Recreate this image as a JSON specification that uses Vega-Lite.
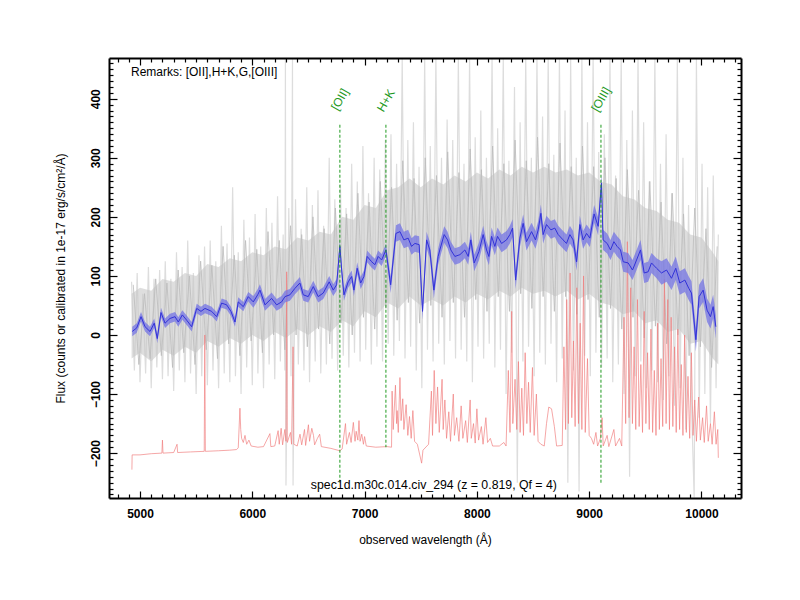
{
"$schema": "https://vega.github.io/schema/vega-lite/v6.json",
"width": 632, "height": 440,
"autosize": {"type": "none"},
"padding": {"left": 109, "top": 58, "right": 59, "bottom": 102},
"background": "white",
"config": {"view": {"stroke": null}, "font": "Liberation Sans"},
"datasets": {
"core": [
{"w":4925,"glo":-40,"ghi":70},{"w":5000,"glo":-30,"ghi":80},{"w":5100,"glo":-45,"ghi":75},{"w":5200,"glo":-25,"ghi":95},{"w":5300,"glo":-35,"ghi":90},{"w":5400,"glo":-20,"ghi":105},{"w":5500,"glo":-30,"ghi":100},{"w":5600,"glo":-10,"ghi":120},{"w":5700,"glo":-20,"ghi":115},{"w":5800,"glo":-5,"ghi":130},{"w":5900,"glo":-15,"ghi":125},{"w":6000,"glo":0,"ghi":140},{"w":6100,"glo":-10,"ghi":135},{"w":6200,"glo":5,"ghi":150},{"w":6300,"glo":-5,"ghi":145},{"w":6400,"glo":10,"ghi":165},{"w":6500,"glo":0,"ghi":160},{"w":6600,"glo":15,"ghi":175},{"w":6700,"glo":5,"ghi":170},{"w":6800,"glo":25,"ghi":200},{"w":6900,"glo":15,"ghi":195},{"w":7000,"glo":40,"ghi":220},{"w":7100,"glo":30,"ghi":215},{"w":7200,"glo":55,"ghi":245},{"w":7300,"glo":45,"ghi":250},{"w":7400,"glo":65,"ghi":265},{"w":7500,"glo":50,"ghi":250},{"w":7600,"glo":60,"ghi":265},{"w":7700,"glo":50,"ghi":255},{"w":7800,"glo":65,"ghi":270},{"w":7900,"glo":55,"ghi":260},{"w":8000,"glo":70,"ghi":275},{"w":8100,"glo":60,"ghi":265},{"w":8200,"glo":75,"ghi":280},{"w":8300,"glo":65,"ghi":270},{"w":8400,"glo":80,"ghi":285},{"w":8500,"glo":70,"ghi":275},{"w":8600,"glo":75,"ghi":285},{"w":8700,"glo":65,"ghi":275},{"w":8800,"glo":75,"ghi":280},{"w":8900,"glo":60,"ghi":270},{"w":9000,"glo":70,"ghi":275},{"w":9100,"glo":55,"ghi":260},{"w":9200,"glo":50,"ghi":255},{"w":9300,"glo":35,"ghi":235},{"w":9400,"glo":40,"ghi":230},{"w":9500,"glo":20,"ghi":215},{"w":9600,"glo":25,"ghi":210},{"w":9700,"glo":5,"ghi":195},{"w":9800,"glo":10,"ghi":190},{"w":9900,"glo":-15,"ghi":170},{"w":10000,"glo":-10,"ghi":165},{"w":10100,"glo":-40,"ghi":140},{"w":10150,"glo":-50,"ghi":125}
],
"inner": [
{"w":4940,"n":85},{"w":4990,"n":-50},{"w":5040,"n":70},{"w":5090,"n":-40},{"w":5140,"n":95},{"w":5190,"n":-35},{"w":5240,"n":88},{"w":5290,"n":-55},{"w":5340,"n":110},{"w":5390,"n":-30},{"w":5440,"n":100},{"w":5490,"n":-50},{"w":5540,"n":125},{"w":5590,"n":-25},{"w":5640,"n":118},{"w":5690,"n":-40},{"w":5740,"n":150},{"w":5790,"n":-15},{"w":5840,"n":135},{"w":5890,"n":-35},{"w":5940,"n":160},{"w":5990,"n":-10},{"w":6040,"n":145},{"w":6090,"n":-30},{"w":6140,"n":175},{"w":6190,"n":0},{"w":6240,"n":160},{"w":6290,"n":-25},{"w":6340,"n":185},{"w":6390,"n":0},{"w":6440,"n":170},{"w":6490,"n":-20},{"w":6540,"n":200},{"w":6590,"n":10},{"w":6640,"n":180},{"w":6690,"n":-15},{"w":6740,"n":215},{"w":6790,"n":20},{"w":6840,"n":205},{"w":6890,"n":0},{"w":6940,"n":240},{"w":6990,"n":30},{"w":7040,"n":225},{"w":7090,"n":10},{"w":7140,"n":260},{"w":7190,"n":45},{"w":7240,"n":250},{"w":7290,"n":25},{"w":7340,"n":295},{"w":7390,"n":55},{"w":7440,"n":265},{"w":7490,"n":20},{"w":7540,"n":300},{"w":7590,"n":50},{"w":7640,"n":270},{"w":7690,"n":30},{"w":7740,"n":310},{"w":7790,"n":55},{"w":7840,"n":275},{"w":7890,"n":30},{"w":7940,"n":315},{"w":7990,"n":60},{"w":8040,"n":280},{"w":8090,"n":40},{"w":8140,"n":320},{"w":8190,"n":65},{"w":8240,"n":290},{"w":8290,"n":40},{"w":8340,"n":330},{"w":8390,"n":70},{"w":8440,"n":295},{"w":8490,"n":45},{"w":8540,"n":335},{"w":8590,"n":65},{"w":8640,"n":290},{"w":8690,"n":40},{"w":8740,"n":325},{"w":8790,"n":65},{"w":8840,"n":285},{"w":8890,"n":35},{"w":8940,"n":320},{"w":8990,"n":60},{"w":9040,"n":285},{"w":9090,"n":30},{"w":9140,"n":300},{"w":9190,"n":45},{"w":9240,"n":265},{"w":9290,"n":10},{"w":9340,"n":280},{"w":9390,"n":30},{"w":9440,"n":245},{"w":9490,"n":-5},{"w":9540,"n":260},{"w":9590,"n":15},{"w":9640,"n":225},{"w":9690,"n":-15},{"w":9740,"n":240},{"w":9790,"n":0},{"w":9840,"n":205},{"w":9890,"n":-35},{"w":9940,"n":215},{"w":9990,"n":-20},{"w":10040,"n":180},{"w":10090,"n":-55},{"w":10140,"n":150}
],
"gray": [
{"w":4925,"r":90},{"w":4950,"r":-60},{"w":4975,"r":105},{"w":5000,"r":-80},{"w":5025,"r":70},{"w":5050,"r":-65},{"w":5075,"r":115},{"w":5100,"r":-90},{"w":5125,"r":95},{"w":5150,"r":-55},{"w":5175,"r":110},{"w":5200,"r":-75},
{"w":5225,"r":125},{"w":5250,"r":-70},{"w":5275,"r":95},{"w":5300,"r":-95},{"w":5325,"r":140},{"w":5350,"r":-60},{"w":5375,"r":115},{"w":5400,"r":-80},{"w":5425,"r":160},{"w":5450,"r":-65},{"w":5475,"r":105},{"w":5500,"r":-100},{"w":5525,"r":135},{"w":5550,"r":-70},{"w":5575,"r":150},{"w":5600,"r":-85},
{"w":5625,"r":160},{"w":5650,"r":-60},{"w":5675,"r":125},{"w":5700,"r":-90},{"w":5725,"r":185},{"w":5750,"r":-65},{"w":5775,"r":155},{"w":5800,"r":-80},{"w":5825,"r":250},{"w":5850,"r":-70},{"w":5875,"r":140},{"w":5900,"r":-100},{"w":5925,"r":195},{"w":5950,"r":-55},{"w":5975,"r":165},{"w":6000,"r":-85},{"w":6025,"r":205},{"w":6050,"r":-65},{"w":6075,"r":150},{"w":6100,"r":-90},
{"w":6125,"r":215},{"w":6150,"r":-50},{"w":6175,"r":190},{"w":6200,"r":-75},{"w":6225,"r":235},{"w":6250,"r":-45},{"w":6275,"r":170},{"w":6290,"r":-60},{"w":6295,"r":468},{"w":6300,"r":-255},{"w":6325,"r":215},{"w":6345,"r":-70},{"w":6358,"r":468},{"w":6363,"r":-255},{"w":6385,"r":230},{"w":6410,"r":-50},{"w":6435,"r":180},{"w":6460,"r":-60},{"w":6485,"r":250},{"w":6510,"r":-80},{"w":6535,"r":220},{"w":6560,"r":-45},{"w":6585,"r":245},{"w":6610,"r":-65},{"w":6635,"r":185},{"w":6660,"r":-50},{"w":6685,"r":300},{"w":6710,"r":-40},{"w":6735,"r":230},{"w":6760,"r":-60},{"w":6785,"r":255},
{"w":6810,"r":-35},{"w":6835,"r":215},{"w":6860,"r":-55},{"w":6885,"r":290},{"w":6910,"r":-30},{"w":6935,"r":260},{"w":6960,"r":-45},{"w":6985,"r":320},{"w":7010,"r":-25},{"w":7035,"r":240},{"w":7060,"r":-50},{"w":7085,"r":300},{"w":7110,"r":-20},{"w":7135,"r":280},{"w":7160,"r":-45},{"w":7185,"r":330},
{"w":7210,"r":-15},{"w":7235,"r":340},{"w":7260,"r":-35},{"w":7285,"r":290},{"w":7310,"r":-10},{"w":7335,"r":468},{"w":7360,"r":-40},{"w":7385,"r":330},{"w":7410,"r":-20},{"w":7435,"r":360},{"w":7460,"r":-60},{"w":7485,"r":285},{"w":7510,"r":-90},{"w":7535,"r":468},{"w":7560,"r":-25},{"w":7585,"r":320},{"w":7610,"r":-45},{"w":7635,"r":468},{"w":7660,"r":-15},{"w":7685,"r":300},{"w":7710,"r":-50},{"w":7735,"r":365},{"w":7760,"r":-10},{"w":7785,"r":330},{"w":7810,"r":-40},{"w":7835,"r":468},{"w":7860,"r":-25},{"w":7885,"r":290},{"w":7910,"r":-45},{"w":7935,"r":468},{"w":7960,"r":-80},{"w":7985,"r":335},
{"w":8010,"r":-20},{"w":8035,"r":380},{"w":8060,"r":-40},{"w":8085,"r":300},{"w":8110,"r":-15},{"w":8135,"r":468},{"w":8160,"r":-55},{"w":8185,"r":350},{"w":8210,"r":-25},{"w":8235,"r":468},{"w":8260,"r":-100},{"w":8285,"r":295},{"w":8310,"r":-30},{"w":8335,"r":420},{"w":8360,"r":-250},{"w":8385,"r":360},{"w":8410,"r":-45},{"w":8435,"r":468},{"w":8460,"r":-20},{"w":8485,"r":300},{"w":8510,"r":-70},{"w":8535,"r":468},{"w":8560,"r":-30},{"w":8585,"r":370},{"w":8610,"r":-50},{"w":8635,"r":468},{"w":8660,"r":-15},{"w":8685,"r":305},{"w":8710,"r":-80},{"w":8735,"r":468},{"w":8760,"r":-40},{"w":8785,"r":380},{"w":8810,"r":-250},{"w":8835,"r":468},{"w":8860,"r":-60},{"w":8885,"r":300},{"w":8910,"r":-265},{"w":8935,"r":468},{"w":8960,"r":-35},{"w":8985,"r":360},{"w":9010,"r":-70},{"w":9035,"r":468},{"w":9060,"r":-30},{"w":9085,"r":310},
{"w":9110,"r":-55},{"w":9135,"r":340},{"w":9160,"r":-40},{"w":9185,"r":468},{"w":9210,"r":-80},{"w":9235,"r":270},{"w":9260,"r":-50},{"w":9285,"r":468},{"w":9310,"r":-100},{"w":9335,"r":330},{"w":9360,"r":-240},{"w":9385,"r":380},{"w":9410,"r":-70},{"w":9435,"r":468},{"w":9460,"r":-45},{"w":9485,"r":360},{"w":9510,"r":-90},{"w":9535,"r":260},{"w":9560,"r":-60},{"w":9585,"r":468},
{"w":9610,"r":-80},{"w":9635,"r":290},{"w":9660,"r":-110},{"w":9685,"r":340},{"w":9710,"r":-70},{"w":9735,"r":240},{"w":9760,"r":-120},{"w":9785,"r":468},{"w":9810,"r":-90},{"w":9835,"r":300},{"w":9860,"r":-160},{"w":9885,"r":220},{"w":9910,"r":-110},{"w":9935,"r":-275},{"w":9955,"r":468},{"w":9980,"r":-140},{"w":10005,"r":290},{"w":10030,"r":-100},{"w":10055,"r":250},{"w":10080,"r":-150},{"w":10105,"r":270},{"w":10130,"r":-90},{"w":10150,"r":170}
],
"sky": [
{"w":4928,"s":-228},{"w":4930,"s":-203},{"w":5000,"s":-203},{"w":5100,"s":-201},{"w":5195,"s":-200},{"w":5200,"s":-178},{"w":5205,"s":-200},{"w":5300,"s":-199},{"w":5330,"s":-185},{"w":5335,"s":-199},{"w":5450,"s":-198},{"w":5572,"s":-197},{"w":5577,"s":0},{"w":5582,"s":-197},{"w":5700,"s":-196},{"w":5800,"s":-195},{"w":5860,"s":-194},{"w":5875,"s":-191},{"w":5890,"s":-124},{"w":5897,"s":-160},{"w":5905,"s":-175},{"w":5920,"s":-182},{"w":5935,"s":-170},{"w":5950,"s":-185},{"w":5970,"s":-178},{"w":5990,"s":-188},{"w":6050,"s":-190},{"w":6100,"s":-189},{"w":6157,"s":-167},{"w":6165,"s":-189},{"w":6200,"s":-188},{"w":6230,"s":-162},{"w":6240,"s":-185},{"w":6257,"s":-158},{"w":6270,"s":-186},{"w":6290,"s":-160},{"w":6300,"s":-180},{"w":6306,"s":107},{"w":6312,"s":-182},{"w":6340,"s":-165},{"w":6350,"s":-185},{"w":6363,"s":-20},{"w":6370,"s":-185},{"w":6400,"s":-188},{"w":6425,"s":-168},{"w":6440,"s":-186},{"w":6465,"s":-160},{"w":6475,"s":-187},{"w":6500,"s":-152},{"w":6510,"s":-180},{"w":6530,"s":-158},{"w":6545,"s":-170},{"w":6555,"s":-186},{"w":6580,"s":-175},{"w":6600,"s":-168},{"w":6615,"s":-189},{"w":6700,"s":-192},{"w":6780,"s":-196},{"w":6800,"s":-193},{"w":6830,"s":-150},{"w":6840,"s":-185},{"w":6865,"s":-165},{"w":6880,"s":-182},{"w":6900,"s":-148},{"w":6915,"s":-180},{"w":6925,"s":-163},{"w":6940,"s":-178},{"w":6950,"s":-145},{"w":6960,"s":-180},{"w":6975,"s":-168},{"w":6990,"s":-185},{"w":7000,"s":-172},{"w":7015,"s":-188},{"w":7100,"s":-190},{"w":7200,"s":-189},{"w":7240,"s":-190},{"w":7245,"s":-95},{"w":7255,"s":-160},{"w":7275,"s":-85},{"w":7285,"s":-150},{"w":7290,"s":-128},{"w":7300,"s":-165},{"w":7315,"s":-72},{"w":7325,"s":-145},{"w":7340,"s":-108},{"w":7350,"s":-160},{"w":7370,"s":-118},{"w":7385,"s":-170},{"w":7400,"s":-138},{"w":7415,"s":-175},{"w":7430,"s":-128},{"w":7445,"s":-180},{"w":7470,"s":-185},{"w":7508,"s":-217},{"w":7520,"s":-195},{"w":7570,"s":-185},{"w":7595,"s":-95},{"w":7605,"s":-170},{"w":7620,"s":-60},{"w":7635,"s":-150},{"w":7650,"s":-88},{"w":7665,"s":-165},{"w":7690,"s":-75},{"w":7700,"s":-160},{"w":7715,"s":-110},{"w":7730,"s":-175},{"w":7750,"s":-130},{"w":7765,"s":-180},{"w":7790,"s":-100},{"w":7800,"s":-170},{"w":7820,"s":-140},{"w":7840,"s":-180},{"w":7860,"s":-120},{"w":7875,"s":-175},{"w":7900,"s":-145},{"w":7915,"s":-182},{"w":7940,"s":-110},{"w":7950,"s":-175},{"w":7970,"s":-150},{"w":7985,"s":-183},{"w":8000,"s":-125},{"w":8015,"s":-178},{"w":8040,"s":-155},{"w":8055,"s":-185},{"w":8080,"s":-140},{"w":8095,"s":-182},{"w":8120,"s":-175},{"w":8140,"s":-188},{"w":8200,"s":-188},{"w":8240,"s":-182},{"w":8260,"s":-188},{"w":8280,"s":-60},{"w":8295,"s":-165},{"w":8310,"s":40},{"w":8320,"s":-150},{"w":8340,"s":-75},{"w":8355,"s":-160},{"w":8370,"s":-45},{"w":8385,"s":-165},{"w":8400,"s":-90},{"w":8415,"s":-170},{"w":8430,"s":-30},{"w":8445,"s":-150},{"w":8460,"s":-80},{"w":8475,"s":-165},{"w":8495,"s":-55},{"w":8510,"s":-170},{"w":8530,"s":-100},{"w":8545,"s":-180},{"w":8570,"s":-185},{"w":8600,"s":-188},{"w":8620,"s":-150},{"w":8640,"s":-122},{"w":8665,"s":-125},{"w":8690,"s":-155},{"w":8710,"s":-188},{"w":8760,"s":-187},{"w":8775,"s":-20},{"w":8790,"s":-160},{"w":8800,"s":60},{"w":8815,"s":-150},{"w":8830,"s":105},{"w":8845,"s":-140},{"w":8860,"s":-10},{"w":8875,"s":-155},{"w":8890,"s":80},{"w":8905,"s":-150},{"w":8920,"s":20},{"w":8935,"s":-160},{"w":8950,"s":100},{"w":8965,"s":-165},{"w":8985,"s":-40},{"w":9000,"s":-170},{"w":9020,"s":-175},{"w":9040,"s":-185},{"w":9060,"s":-165},{"w":9075,"s":-188},{"w":9100,"s":-175},{"w":9115,"s":-140},{"w":9125,"s":-188},{"w":9160,"s":-170},{"w":9175,"s":-189},{"w":9220,"s":-160},{"w":9235,"s":-188},{"w":9270,"s":-175},{"w":9290,"s":-188},{"w":9310,"s":30},{"w":9325,"s":-150},{"w":9340,"s":158},{"w":9355,"s":-140},{"w":9370,"s":80},{"w":9385,"s":-150},{"w":9400,"s":-20},{"w":9415,"s":-160},{"w":9430,"s":60},{"w":9445,"s":-155},{"w":9460,"s":-50},{"w":9475,"s":-165},{"w":9490,"s":40},{"w":9505,"s":-150},{"w":9520,"s":-30},{"w":9535,"s":-160},{"w":9550,"s":10},{"w":9565,"s":-165},{"w":9580,"s":-60},{"w":9595,"s":-170},{"w":9610,"s":20},{"w":9625,"s":-160},{"w":9640,"s":-40},{"w":9655,"s":-155},{"w":9670,"s":94},{"w":9685,"s":-150},{"w":9700,"s":60},{"w":9715,"s":-160},{"w":9730,"s":30},{"w":9745,"s":-155},{"w":9760,"s":-20},{"w":9775,"s":-165},{"w":9790,"s":10},{"w":9805,"s":-160},{"w":9820,"s":-50},{"w":9835,"s":-170},{"w":9850,"s":0},{"w":9865,"s":-165},{"w":9880,"s":-70},{"w":9895,"s":-175},{"w":9910,"s":-30},{"w":9925,"s":-170},{"w":9940,"s":-110},{"w":9955,"s":-180},{"w":9975,"s":-105},{"w":9990,"s":-178},{"w":10010,"s":-140},{"w":10025,"s":-182},{"w":10045,"s":-120},{"w":10060,"s":-180},{"w":10080,"s":-150},{"w":10095,"s":-185},{"w":10115,"s":-130},{"w":10130,"s":-185},{"w":10145,"s":-160},{"w":10150,"s":-208}
],
"smooth": [
{"w":4931,"f":6,"lo":-2,"hi":14},{"w":4971,"f":12,"lo":4,"hi":20},{"w":5009,"f":31,"lo":23,"hi":39},{"w":5045,"f":14,"lo":6,"hi":22},{"w":5089,"f":6,"lo":-2,"hi":14},{"w":5127,"f":20,"lo":12,"hi":28},{"w":5154,"f":-6,"lo":-14,"hi":2},{"w":5187,"f":38,"lo":30,"hi":46},{"w":5223,"f":20,"lo":12,"hi":28},{"w":5267,"f":28,"lo":20,"hi":36},{"w":5312,"f":31,"lo":23,"hi":39},{"w":5341,"f":22,"lo":14,"hi":30},{"w":5377,"f":34,"lo":26,"hi":42},{"w":5416,"f":25,"lo":17,"hi":33},{"w":5460,"f":14,"lo":6,"hi":22},{"w":5505,"f":45,"lo":37,"hi":53},{"w":5543,"f":40,"lo":32,"hi":48},{"w":5579,"f":45,"lo":37,"hi":53},{"w":5638,"f":40,"lo":32,"hi":48},{"w":5683,"f":31,"lo":23,"hi":39},{"w":5727,"f":54,"lo":46,"hi":62},{"w":5772,"f":51,"lo":43,"hi":59},{"w":5810,"f":40,"lo":32,"hi":48},{"w":5846,"f":22,"lo":14,"hi":30},{"w":5875,"f":56,"lo":48,"hi":64},{"w":5920,"f":48,"lo":40,"hi":56},{"w":5964,"f":65,"lo":57,"hi":73},
{"w":6009,"f":56,"lo":46,"hi":66},{"w":6048,"f":68,"lo":58,"hi":78},{"w":6068,"f":76,"lo":66,"hi":86},{"w":6113,"f":51,"lo":41,"hi":61},{"w":6172,"f":62,"lo":52,"hi":72},{"w":6217,"f":51,"lo":41,"hi":61},{"w":6261,"f":56,"lo":46,"hi":66},{"w":6291,"f":65,"lo":55,"hi":75},{"w":6335,"f":68,"lo":58,"hi":78},{"w":6380,"f":79,"lo":69,"hi":89},{"w":6424,"f":88,"lo":78,"hi":98},{"w":6454,"f":68,"lo":58,"hi":78},{"w":6498,"f":65,"lo":55,"hi":75},{"w":6543,"f":82,"lo":72,"hi":92},{"w":6587,"f":65,"lo":55,"hi":75},{"w":6632,"f":71,"lo":61,"hi":81},{"w":6685,"f":90,"lo":80,"hi":100},{"w":6721,"f":76,"lo":66,"hi":86},{"w":6751,"f":85,"lo":75,"hi":95},{"w":6780,"f":150,"lo":140,"hi":160},{"w":6796,"f":110,"lo":100,"hi":120},{"w":6816,"f":68,"lo":58,"hi":78},{"w":6854,"f":90,"lo":80,"hi":100},{"w":6885,"f":99,"lo":89,"hi":109},{"w":6905,"f":76,"lo":66,"hi":86},{"w":6934,"f":113,"lo":103,"hi":123},{"w":6965,"f":88,"lo":78,"hi":98},{"w":6994,"f":99,"lo":89,"hi":109},{"w":7023,"f":133,"lo":123,"hi":143},{"w":7063,"f":124,"lo":114,"hi":134},{"w":7092,"f":119,"lo":109,"hi":129},{"w":7121,"f":133,"lo":123,"hi":143},{"w":7152,"f":127,"lo":117,"hi":137},{"w":7190,"f":144,"lo":134,"hi":154},
{"w":7232,"f":85,"lo":71,"hi":99},{"w":7279,"f":172,"lo":158,"hi":186},{"w":7315,"f":175,"lo":161,"hi":189},{"w":7350,"f":161,"lo":147,"hi":175},{"w":7388,"f":164,"lo":150,"hi":178},{"w":7418,"f":150,"lo":136,"hi":164},{"w":7448,"f":155,"lo":141,"hi":169},{"w":7486,"f":153,"lo":139,"hi":167},{"w":7516,"f":40,"lo":26,"hi":54},{"w":7552,"f":161,"lo":147,"hi":175},{"w":7581,"f":144,"lo":130,"hi":158},{"w":7617,"f":76,"lo":62,"hi":90},{"w":7655,"f":133,"lo":119,"hi":147},{"w":7670,"f":144,"lo":130,"hi":158},{"w":7709,"f":170,"lo":156,"hi":184},{"w":7739,"f":161,"lo":147,"hi":175},{"w":7768,"f":144,"lo":130,"hi":158},{"w":7804,"f":133,"lo":119,"hi":147},{"w":7849,"f":136,"lo":122,"hi":150},{"w":7893,"f":144,"lo":130,"hi":158},{"w":7923,"f":133,"lo":119,"hi":147},{"w":7946,"f":161,"lo":147,"hi":175},{"w":7976,"f":122,"lo":108,"hi":136},
{"w":8018,"f":141,"lo":126,"hi":156},{"w":8056,"f":170,"lo":155,"hi":185},{"w":8086,"f":144,"lo":129,"hi":159},{"w":8107,"f":133,"lo":118,"hi":148},{"w":8131,"f":167,"lo":152,"hi":182},{"w":8160,"f":150,"lo":135,"hi":165},{"w":8184,"f":167,"lo":152,"hi":182},{"w":8220,"f":155,"lo":140,"hi":170},{"w":8264,"f":161,"lo":146,"hi":176},{"w":8294,"f":170,"lo":155,"hi":185},{"w":8318,"f":181,"lo":166,"hi":196},{"w":8345,"f":93,"lo":78,"hi":108},{"w":8383,"f":164,"lo":149,"hi":179},{"w":8412,"f":189,"lo":174,"hi":204},{"w":8442,"f":158,"lo":143,"hi":173},{"w":8487,"f":175,"lo":160,"hi":190},{"w":8522,"f":161,"lo":146,"hi":176},{"w":8546,"f":178,"lo":163,"hi":193},{"w":8570,"f":206,"lo":191,"hi":221},{"w":8590,"f":170,"lo":155,"hi":185},{"w":8620,"f":187,"lo":172,"hi":202},{"w":8659,"f":178,"lo":163,"hi":193},{"w":8694,"f":181,"lo":166,"hi":196},{"w":8724,"f":170,"lo":155,"hi":185},{"w":8768,"f":161,"lo":146,"hi":176},{"w":8798,"f":155,"lo":140,"hi":170},{"w":8828,"f":170,"lo":155,"hi":185},{"w":8857,"f":161,"lo":146,"hi":176},{"w":8888,"f":124,"lo":109,"hi":139},{"w":8917,"f":187,"lo":172,"hi":202},{"w":8946,"f":161,"lo":146,"hi":176},{"w":8977,"f":172,"lo":157,"hi":187},{"w":9006,"f":164,"lo":149,"hi":179},{"w":9044,"f":205,"lo":190,"hi":220},{"w":9080,"f":184,"lo":169,"hi":199},{"w":9110,"f":257,"lo":242,"hi":272},
{"w":9124,"f":161,"lo":144,"hi":178},{"w":9160,"f":155,"lo":138,"hi":172},{"w":9190,"f":144,"lo":127,"hi":161},{"w":9220,"f":158,"lo":141,"hi":175},{"w":9249,"f":150,"lo":133,"hi":167},{"w":9279,"f":144,"lo":127,"hi":161},{"w":9303,"f":124,"lo":107,"hi":141},{"w":9347,"f":122,"lo":105,"hi":139},{"w":9386,"f":110,"lo":93,"hi":127},{"w":9422,"f":127,"lo":110,"hi":144},{"w":9457,"f":144,"lo":127,"hi":161},{"w":9490,"f":105,"lo":88,"hi":122},{"w":9525,"f":107,"lo":90,"hi":124},{"w":9555,"f":122,"lo":105,"hi":139},{"w":9600,"f":113,"lo":96,"hi":130},
{"w":9644,"f":105,"lo":85,"hi":125},{"w":9689,"f":110,"lo":90,"hi":130},{"w":9733,"f":96,"lo":76,"hi":116},{"w":9771,"f":113,"lo":93,"hi":133},{"w":9807,"f":88,"lo":68,"hi":108},{"w":9852,"f":93,"lo":73,"hi":113},{"w":9887,"f":79,"lo":59,"hi":99},{"w":9911,"f":71,"lo":51,"hi":91},{"w":9950,"f":-8,"lo":-28,"hi":12},{"w":9979,"f":65,"lo":45,"hi":85},{"w":10015,"f":76,"lo":56,"hi":96},{"w":10050,"f":42,"lo":22,"hi":62},{"w":10080,"f":31,"lo":11,"hi":51},{"w":10104,"f":48,"lo":28,"hi":68},{"w":10128,"f":14,"lo":-6,"hi":34}
],
"lines": [
{"w":6780,"top":356,"bottom":-250,"label":"[OII]","ly":399},
{"w":7190,"top":356,"bottom":-190,"label":"H+K","ly":397},
{"w":9105,"top":356,"bottom":-252,"label":"[OIII]","ly":399}
]
},
"resolve": {"axis": {"x": "independent", "y": "independent"}},
"layer": [
{
"data": {"name": "gray"},
"mark": {"type": "line", "stroke": "#dddddd", "strokeWidth": 1.2, "clip": true},
"encoding": {
"x": {"field": "w", "type": "quantitative", "scale": {"domain": [4724, 10352], "nice": false, "zero": false},
"axis": {"orient": "bottom", "title": "observed wavelength (Å)", "values": [4800,4900,5000,5100,5200,5300,5400,5500,5600,5700,5800,5900,6000,6100,6200,6300,6400,6500,6600,6700,6800,6900,7000,7100,7200,7300,7400,7500,7600,7700,7800,7900,8000,8100,8200,8300,8400,8500,8600,8700,8800,8900,9000,9100,9200,9300,9400,9500,9600,9700,9800,9900,10000,10100,10200,10300],
"labelExpr": "datum.value % 1000 === 0 ? format(datum.value, 'd') : ''", "labelOverlap": false, "labelFlush": false,
"tickSize": {"condition": {"test": "datum.value % 1000 === 0", "value": -7}, "value": -4},
"tickColor": "black", "tickWidth": 1.2, "domain": true, "domainColor": "black", "domainWidth": 2, "grid": false, "zindex": 1,
"labelPadding": 17, "labelFont": "Liberation Sans", "labelFontWeight": "bold", "labelFontSize": 12, "labelColor": "black",
"titleFont": "Liberation Sans", "titleFontSize": 12, "titleFontWeight": "normal", "titleColor": "black", "titlePadding": 12}},
"y": {"field": "r", "type": "quantitative", "scale": {"domain": [-276, 469], "nice": false, "zero": false},
"axis": {"orient": "left", "title": "Flux (counts or calibrated in 1e-17 erg/s/cm²/Å)", "values": [-270,-260,-250,-240,-230,-220,-210,-200,-190,-180,-170,-160,-150,-140,-130,-120,-110,-100,-90,-80,-70,-60,-50,-40,-30,-20,-10,0,10,20,30,40,50,60,70,80,90,100,110,120,130,140,150,160,170,180,190,200,210,220,230,240,250,260,270,280,290,300,310,320,330,340,350,360,370,380,390,400,410,420,430,440,450,460],
"labelExpr": "datum.value % 100 === 0 ? format(datum.value, 'd') : ''", "labelOverlap": false, "labelFlush": false,
"labelAngle": -90, "labelAlign": "center", "labelBaseline": "bottom",
"tickSize": {"condition": {"test": "datum.value % 100 === 0", "value": -8}, "value": -4},
"tickColor": "black", "tickWidth": 1.2, "domain": true, "domainColor": "black", "domainWidth": 2, "grid": false, "zindex": 1,
"labelPadding": 15, "labelFont": "Liberation Sans", "labelFontWeight": "bold", "labelFontSize": 12, "labelColor": "black",
"titleFont": "Liberation Sans", "titleFontSize": 12, "titleFontWeight": "normal", "titleColor": "black", "titlePadding": 18}}
}
},
{
"data": {"name": "core"},
"mark": {"type": "area", "color": "#c8c8c8", "opacity": 0.6, "clip": true},
"encoding": {
"x": {"field": "w", "type": "quantitative", "scale": {"domain": [4724, 10352], "nice": false, "zero": false},
"axis": {"orient": "top", "title": null, "labels": false, "values": [4800,4900,5000,5100,5200,5300,5400,5500,5600,5700,5800,5900,6000,6100,6200,6300,6400,6500,6600,6700,6800,6900,7000,7100,7200,7300,7400,7500,7600,7700,7800,7900,8000,8100,8200,8300,8400,8500,8600,8700,8800,8900,9000,9100,9200,9300,9400,9500,9600,9700,9800,9900,10000,10100,10200,10300],
"tickSize": {"condition": {"test": "datum.value % 1000 === 0", "value": -7}, "value": -4},
"tickColor": "black", "tickWidth": 1.2, "domain": true, "domainColor": "black", "domainWidth": 2, "grid": false, "zindex": 1}},
"y": {"field": "glo", "type": "quantitative", "scale": {"domain": [-276, 469], "nice": false, "zero": false},
"axis": {"orient": "right", "title": null, "labels": false, "values": [-270,-260,-250,-240,-230,-220,-210,-200,-190,-180,-170,-160,-150,-140,-130,-120,-110,-100,-90,-80,-70,-60,-50,-40,-30,-20,-10,0,10,20,30,40,50,60,70,80,90,100,110,120,130,140,150,160,170,180,190,200,210,220,230,240,250,260,270,280,290,300,310,320,330,340,350,360,370,380,390,400,410,420,430,440,450,460],
"tickSize": {"condition": {"test": "datum.value % 100 === 0", "value": -8}, "value": -4},
"tickColor": "black", "tickWidth": 1.2, "domain": true, "domainColor": "black", "domainWidth": 2, "grid": false, "zindex": 1}},
"y2": {"field": "ghi"}
}
},
{
"data": {"name": "inner"},
"mark": {"type": "line", "stroke": "#bcbcbc", "strokeWidth": 1, "opacity": 0.8, "clip": true},
"encoding": {
"x": {"field": "w", "type": "quantitative", "scale": {"domain": [4724, 10352], "nice": false, "zero": false}, "axis": null},
"y": {"field": "n", "type": "quantitative", "scale": {"domain": [-276, 469], "nice": false, "zero": false}, "axis": null}
}
},
{
"data": {"name": "sky"},
"mark": {"type": "line", "stroke": "#f07c7c", "strokeWidth": 0.8, "opacity": 0.85, "clip": true},
"encoding": {
"x": {"field": "w", "type": "quantitative", "scale": {"domain": [4724, 10352], "nice": false, "zero": false}, "axis": null},
"y": {"field": "s", "type": "quantitative", "scale": {"domain": [-276, 469], "nice": false, "zero": false}, "axis": null}
}
},
{
"data": {"name": "smooth"},
"mark": {"type": "area", "color": "#7474e4", "opacity": 0.75, "clip": true},
"encoding": {
"x": {"field": "w", "type": "quantitative", "scale": {"domain": [4724, 10352], "nice": false, "zero": false}, "axis": null},
"y": {"field": "lo", "type": "quantitative", "scale": {"domain": [-276, 469], "nice": false, "zero": false}, "axis": null},
"y2": {"field": "hi"}
}
},
{
"data": {"name": "smooth"},
"mark": {"type": "line", "stroke": "#3232d8", "strokeWidth": 1, "clip": true},
"encoding": {
"x": {"field": "w", "type": "quantitative", "scale": {"domain": [4724, 10352], "nice": false, "zero": false}, "axis": null},
"y": {"field": "f", "type": "quantitative", "scale": {"domain": [-276, 469], "nice": false, "zero": false}, "axis": null}
}
},
{
"data": {"name": "lines"},
"mark": {"type": "rule", "stroke": "#1f9a1f", "strokeWidth": 1, "strokeDash": [3, 2]},
"encoding": {
"x": {"field": "w", "type": "quantitative", "scale": {"domain": [4724, 10352], "nice": false, "zero": false}, "axis": null},
"y": {"field": "top", "type": "quantitative", "scale": {"domain": [-276, 469], "nice": false, "zero": false}, "axis": null},
"y2": {"field": "bottom"}
}
},
{
"data": {"name": "lines"},
"mark": {"type": "text", "color": "#1f9a1f", "angle": 300, "align": "center", "baseline": "middle", "font": "Liberation Sans", "fontSize": 12},
"encoding": {
"x": {"field": "w", "type": "quantitative", "scale": {"domain": [4724, 10352], "nice": false, "zero": false}, "axis": null},
"y": {"field": "ly", "type": "quantitative", "scale": {"domain": [-276, 469], "nice": false, "zero": false}, "axis": null},
"text": {"field": "label"}
}
},
{
"data": {"values": [{"w": 4920, "y": 445, "text": "Remarks: [OII],H+K,G,[OIII]"}]},
"mark": {"type": "text", "color": "black", "align": "left", "baseline": "middle", "font": "Liberation Sans", "fontSize": 12},
"encoding": {
"x": {"field": "w", "type": "quantitative", "scale": {"domain": [4724, 10352], "nice": false, "zero": false}, "axis": null},
"y": {"field": "y", "type": "quantitative", "scale": {"domain": [-276, 469], "nice": false, "zero": false}, "axis": null},
"text": {"field": "text"}
}
},
{
"data": {"values": [{"w": 7617, "y": -254, "text": "spec1d.m30c.014.civ_294 (z = 0.819, Qf = 4)"}]},
"mark": {"type": "text", "color": "black", "align": "center", "baseline": "middle", "font": "Liberation Sans", "fontSize": 12.3},
"encoding": {
"x": {"field": "w", "type": "quantitative", "scale": {"domain": [4724, 10352], "nice": false, "zero": false}, "axis": null},
"y": {"field": "y", "type": "quantitative", "scale": {"domain": [-276, 469], "nice": false, "zero": false}, "axis": null},
"text": {"field": "text"}
}
}
]
}
